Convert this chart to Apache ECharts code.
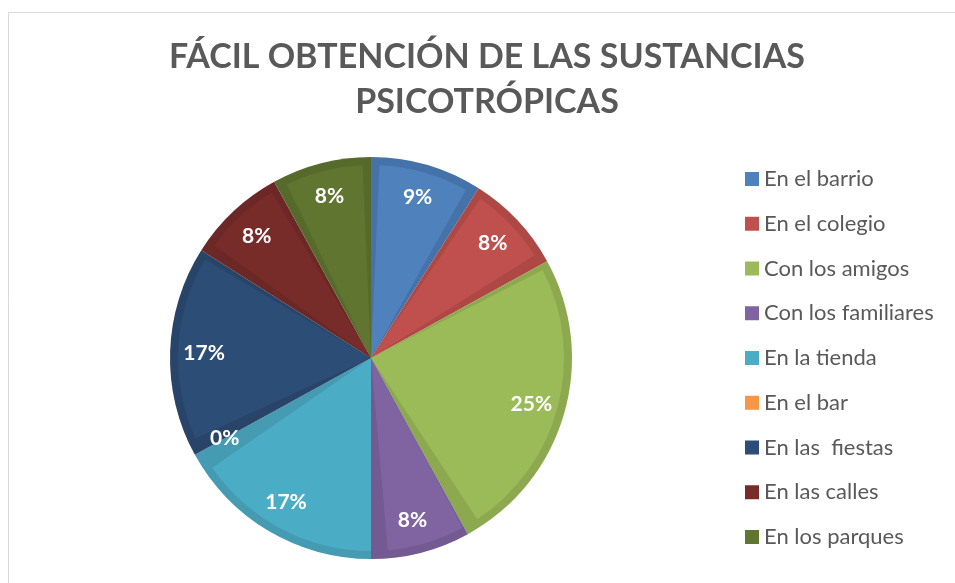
<!DOCTYPE html>
<html>
<head>
<meta charset="utf-8">
<script src="https://cdn.jsdelivr.net/npm/echarts@6/dist/echarts.min.js"></script>
<style>html,body{margin:0;padding:0;background:#fff}#c{width:955px;height:583px}</style>
</head>
<body>
<div id="c"></div>
<script>
const categories = ["En el barrio","En el colegio","Con los amigos","Con los familiares","En la tienda","En el bar","En las  fiestas","En las calles","En los parques"];
const values = [9, 8, 25, 8, 17, 0, 17, 8, 8];
const mainColors = ["#4F81BD","#C0504D","#9BBB59","#8064A2","#4BACC6","#F79646","#2C4D75","#772C2A","#5F7530"];
const bandColors = ["#4572A9","#AD4845","#8CA950","#735A93","#449BB2","#DE873F","#284569","#6B2826","#566A2B"];
const titleText = "FÁCIL OBTENCIÓN DE LAS SUSTANCIAS\nPSICOTRÓPICAS";

const chart = echarts.init(document.getElementById('c'), null, {renderer: 'canvas'});
const center = [371, 358];
const mk = (cols) => categories.map((n, i) => ({name: n, value: values[i], itemStyle: {color: cols[i]}}));

chart.setOption({
  backgroundColor: '#ffffff',
  animation: false,
  graphic: [{
    type: 'rect', z: -1, silent: true,
    shape: {x: 8.5, y: 12.5, width: 1000, height: 700},
    style: {fill: 'none', stroke: '#d9d9d9', lineWidth: 1}
  }, {
    type: 'text', silent: true, x: 487, y: 35,
    style: {text: titleText, align: 'center', verticalAlign: 'top',
            font: 'bold 34px Lato', lineHeight: 45, fill: '#595959'}
  }],
  legend: {
    orient: 'vertical',
    left: 745,
    top: 168,
    padding: 0,
    itemWidth: 14,
    itemHeight: 14,
    itemGap: 22.75,
    icon: 'rect',
    data: categories,
    textStyle: {fontFamily: 'Lato', fontSize: 22, color: '#595959'}
  },
  series: [
    {
      type: 'pie', name: 'main', z: 3, center: center, radius: [0, 193],
      startAngle: 90, clockwise: true, padAngle: 5,
      label: {show: false}, labelLine: {show: false},
      emphasis: {disabled: true},
      data: mk(mainColors)
    },
    {
      type: 'pie', name: 'band', z: 2, center: center, radius: [0, 201],
      startAngle: 90, clockwise: true,
      label: {show: false}, labelLine: {show: false},
      emphasis: {disabled: true},
      data: mk(bandColors)
    },
    {
      type: 'pie', name: 'labels', z: 4, center: center, radius: [128, 200],
      startAngle: 90, clockwise: true, silent: true,
      itemStyle: {color: 'rgba(0,0,0,0)'},
      label: {show: true, position: 'inside', formatter: '{c}%', color: '#ffffff',
              fontFamily: 'Lato', fontWeight: 'bold', fontSize: 21},
      labelLine: {show: false},
      emphasis: {disabled: true},
      data: categories.map((n, i) => ({name: n, value: values[i]}))
    }
  ]
});
</script>
</body>
</html>
